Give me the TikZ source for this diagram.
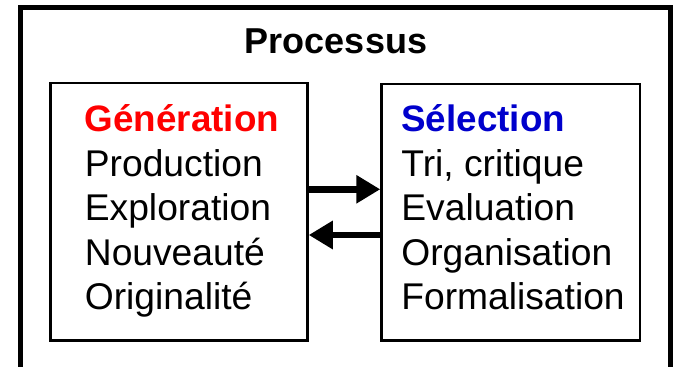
\documentclass[tikz,border=0pt]{standalone}
\usepackage{fontspec}
\setmainfont{Liberation Sans}
\usetikzlibrary{arrows.meta}
\definecolor{genred}{RGB}{255,0,0}
\definecolor{selblue}{RGB}{0,0,204}
\begin{document}
\begin{tikzpicture}[x=0.5pt,y=-0.5pt,
  box/.style={draw=black, line width=1.25pt, inner sep=0pt},
  txt/.style={anchor=base west, inner sep=0pt, font=\fontsize{18.6}{22}\selectfont},
  hdr/.style={txt, font=\fontsize{18.4}{22}\selectfont\bfseries},
  flow/.style={line width=3.3pt, -{Triangle[length=12pt,width=13.5pt]}}]
\useasboundingbox (0,0) rectangle (673,367);
\clip (0,0) rectangle (673,367);
% outer frame (open at the bottom, runs off the picture)
\draw[line width=2.5pt] (20.5,390) -- (20.5,7.5) -- (670,7.5) -- (670,390);
% title
\node[anchor=base, inner sep=0pt, font=\fontsize{18}{22}\selectfont\bfseries] (title) at (336,53.3) {Processus};
% boxes
\node[box, minimum width=128.5pt, minimum height=128.75pt] (gen) at (179,211.75) {};
\node[box, minimum width=129.25pt, minimum height=128.25pt] (sel) at (510.75,212.25) {};
% left texts
\node[hdr, text=genred] (g0) at (84.5,132) {Génération};
\node[txt] (g1) at (84.5,176.5) {Production};
\node[txt] (g2) at (84.5,221) {Exploration};
\node[txt] (g3) at (84.5,265.5) {Nouveauté};
\node[txt] (g4) at (84.5,310) {Originalité};
% right texts
\node[hdr, text=selblue] (s0) at (401,132) {Sélection};
\node[txt] (s1) at (401,176.5) {Tri, critique};
\node[txt] (s2) at (401,221) {Evaluation};
\node[txt] (s3) at (401,265.5) {Organisation};
\node[txt] (s4) at (401,310) {Formalisation};
% arrows
\coordinate (ya) at (0,189.3);
\coordinate (yb) at (0,235);
\draw[flow] (gen.east |- ya) -- (sel.west |- ya);
\draw[flow] (sel.west |- yb) -- (gen.east |- yb);
\end{tikzpicture}
\end{document}
